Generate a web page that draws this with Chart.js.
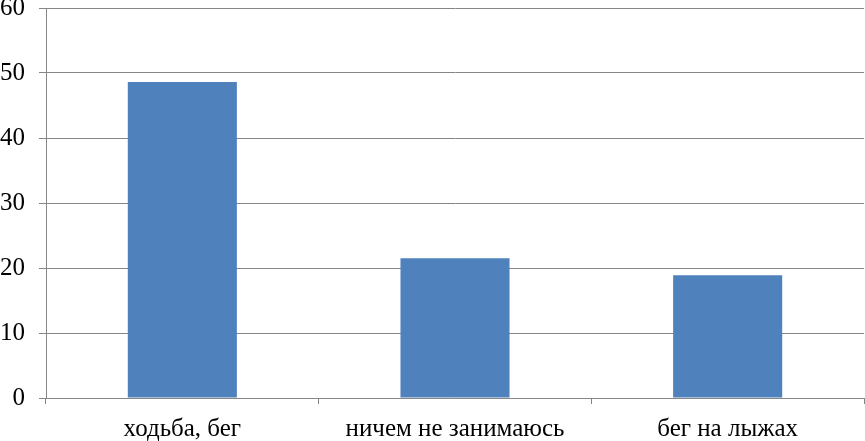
<!DOCTYPE html>
<html>
<head>
<meta charset="utf-8">
<script src="https://cdn.jsdelivr.net/npm/chart.js@4/dist/chart.umd.min.js"></script>
<style>
  html, body { margin: 0; padding: 0; background: #fff; overflow: hidden; }
  /* canvas is a bit taller and pulled up so the plot top lands at y=8 */
  #wrap { width: 865px; height: 462px; margin-top: -21px; }
</style>
</head>
<body>
<div id="wrap"><canvas id="chart"></canvas></div>
<script>
const categories = ['ходьба, бег', 'ничем не занимаюсь', 'бег на лыжах'];
const values = [48.6, 21.5, 18.9];
const yTicks = [0, 10, 20, 30, 40, 50, 60];

const font = { family: "'Liberation Serif', 'Times New Roman', serif", size: 25 };

new Chart(document.getElementById('chart'), {
  type: 'bar',
  data: {
    labels: categories,
    datasets: [{
      data: values,
      backgroundColor: '#4f81bd',
      borderWidth: 0,
      barPercentage: 0.4,
      categoryPercentage: 1
    }]
  },
  options: {
    responsive: true,
    maintainAspectRatio: false,
    animation: false,
    layout: { padding: { top: 0, right: 1, left: 0, bottom: 0 } },
    plugins: { legend: { display: false }, tooltip: { enabled: false } },
    scales: {
      x: {
        grid: { display: true, drawOnChartArea: false, color: '#868686', tickLength: 6 },
        border: { color: '#868686', width: 1 },
        ticks: { color: '#000', font: font, padding: 10, maxRotation: 0 },
        afterFit: (s) => { s.height = 43; }
      },
      y: {
        min: 0,
        max: 60,
        afterBuildTicks: (s) => { s.ticks = yTicks.map(v => ({ value: v })); },
        grid: { color: '#868686', tickLength: 7 },
        border: { color: '#868686', width: 1 },
        ticks: { color: '#000', font: font, padding: 14 },
        afterFit: (s) => { s.width = 46; }
      }
    }
  }
});
</script>
</body>
</html>
